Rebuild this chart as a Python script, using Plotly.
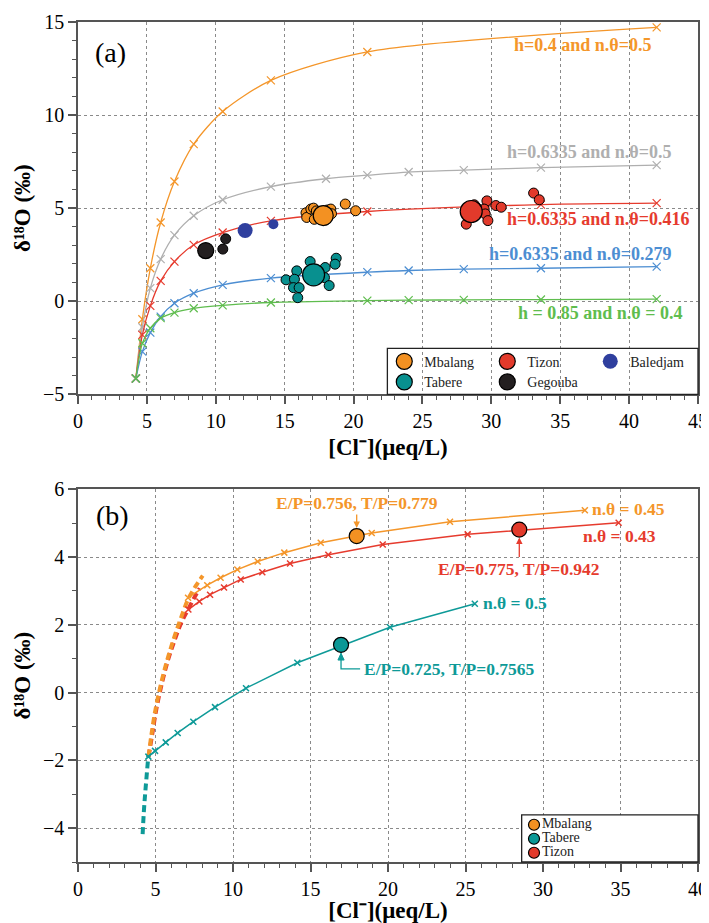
import plotly.graph_objects as go

FONT = "Liberation Serif"

# ---------------- Panel (a): model curves ----------------
cl_orange = [4.2, 4.67, 5.25, 6.0, 7.0, 8.4, 10.5, 14.0, 21.0, 42.0]
d18_orange = [-4.15, -0.97, 1.77, 4.23, 6.43, 8.44, 10.19, 11.86, 13.39, 14.71]
cl_gray = [4.2, 4.67, 5.25, 6.0, 7.0, 8.4, 10.5, 14.0, 18.0, 21.0, 24.0, 28.0, 33.6, 42.0]
d18_gray = [-4.15, -1.4, 0.70, 2.26, 3.55, 4.59, 5.45, 6.16, 6.58, 6.77, 6.94, 7.04, 7.18, 7.31]
cl_red = [4.2, 4.67, 5.25, 6.0, 7.0, 8.4, 10.5, 14.0, 21.0, 33.6, 42.0]
d18_red = [-4.15, -1.81, -0.25, 1.09, 2.13, 3.03, 3.69, 4.32, 4.82, 5.19, 5.27]
cl_blue = [4.2, 4.67, 5.25, 6.0, 7.0, 8.4, 10.5, 14.0, 21.0, 24.0, 28.0, 33.6, 42.0]
d18_blue = [-4.15, -2.71, -1.69, -0.83, -0.11, 0.43, 0.88, 1.24, 1.56, 1.65, 1.72, 1.77, 1.86]
cl_green = [4.2, 4.67, 5.25, 6.0, 7.0, 8.4, 10.5, 14.0, 21.0, 24.0, 28.0, 33.6, 42.0]
d18_green = [-4.15, -2.26, -1.45, -0.91, -0.61, -0.38, -0.22, -0.07, 0.03, 0.06, 0.07, 0.09, 0.11]

curve_labels = ["h=0.4 and n.θ=0.5", "h=0.6335 and n.θ=0.5", "h=0.6335 and n.θ=0.416",
                "h=0.6335 and n.θ=0.279", "h = 0.85 and n.θ = 0.4"]
curve_colors = ["#F4962A", "#AFAFAF", "#E63B2E", "#4D8ED2", "#5FBD4E"]
curve_label_x = [31.5, 31.0, 31.0, 29.7, 31.8]
curve_label_y = [13.78, 8.01, 4.42, 2.53, -0.61]

# ---------------- Panel (a): samples ----------------
sites = ["Mbalang", "Tizon", "Baledjam", "Tabere", "Gegouba"]
site_colors = {"Mbalang": "#F39122", "Tizon": "#E23A2B", "Baledjam": "#2F3F9E",
               "Tabere": "#08908F", "Gegouba": "#231F20"}

mbalang_cl = [16.55, 16.6, 16.9, 17.1, 17.15, 17.3, 17.5, 17.95, 18.1, 18.35, 18.4, 19.4, 20.15]
mbalang_d18 = [4.75, 4.5, 4.95, 5.0, 4.4, 4.85, 4.7, 4.35, 4.9, 4.95, 4.7, 5.22, 4.86]
tizon_cl = [28.18, 28.76, 29.68, 29.48, 29.56, 29.75, 30.33, 30.72, 33.07, 33.48, 28.9]
tizon_d18 = [4.14, 5.18, 5.39, 4.95, 4.69, 4.33, 5.14, 5.05, 5.81, 5.45, 5.05]
tabere_cl = [16.85, 15.88, 15.1, 15.71, 15.64, 16.05, 15.95, 17.94, 17.89, 18.23, 18.74, 18.66]
tabere_d18 = [2.13, 1.63, 1.15, 1.18, 0.73, 0.73, 0.19, 1.81, 1.27, 0.84, 2.31, 1.99]
gegouba_cl = [10.72, 10.51]
gegouba_d18 = [3.35, 2.80]
baledjam_cl = [14.18]
baledjam_d18 = [4.14]

mean_cl = {"Mbalang": 17.8, "Tizon": 28.54, "Baledjam": 12.13, "Tabere": 17.1, "Gegouba": 9.27}
mean_d18 = {"Mbalang": 4.6, "Tizon": 4.82, "Baledjam": 3.80, "Tabere": 1.42, "Gegouba": 2.72}
mean_size = {"Mbalang": 20, "Tizon": 22, "Baledjam": 15, "Tabere": 22, "Gegouba": 16}

# ---------------- Panel (b) ----------------
b_orange_cl = [7.1, 8.34, 9.2, 10.28, 11.59, 13.31, 15.66, 18.95, 24.0, 32.7]
b_orange_d18 = [2.80, 3.17, 3.39, 3.63, 3.87, 4.13, 4.42, 4.71, 5.04, 5.38]
b_red_cl = [7.12, 7.83, 8.52, 9.42, 10.5, 11.89, 13.68, 16.15, 19.66, 25.14, 34.88]
b_red_d18 = [2.45, 2.69, 2.89, 3.10, 3.34, 3.55, 3.81, 4.07, 4.37, 4.67, 5.01]
b_teal_cl = [4.54, 4.97, 5.66, 6.43, 7.44, 8.84, 10.84, 14.15, 20.13, 25.6]
b_teal_d18 = [-1.89, -1.72, -1.47, -1.19, -0.86, -0.43, 0.13, 0.88, 1.93, 2.62]

b_orange_dash_cl = [4.55, 4.75, 5.0, 5.35, 5.75, 6.15, 6.6, 7.1, 7.6, 8.05]
b_orange_dash_d18 = [-1.9, -1.2, -0.5, 0.25, 0.95, 1.55, 2.15, 2.75, 3.15, 3.45]
b_red_dash_cl = [4.55, 4.8, 5.05, 5.4, 5.8, 6.2, 6.65, 7.1, 7.5, 7.85]
b_red_dash_d18 = [-1.9, -1.2, -0.5, 0.25, 0.95, 1.5, 2.05, 2.45, 2.8, 3.08]
b_teal_dash_cl = [4.17, 4.25, 4.33, 4.42, 4.54]
b_teal_dash_d18 = [-4.18, -3.5, -3.0, -2.5, -1.86]

b_sites = ["Mbalang", "Tabere", "Tizon"]
b_pt_cl = {"Mbalang": 17.98, "Tabere": 16.97, "Tizon": 28.47}
b_pt_d18 = {"Mbalang": 4.62, "Tabere": 1.41, "Tizon": 4.81}
b_colors = {"Mbalang": "#F39122", "Tabere": "#0B9896", "Tizon": "#E23A2B"}
b_line_colors = {"orange": "#F4962A", "red": "#E63B2E", "teal": "#0E9A98"}
teal_text_y = 0.70

fig = go.Figure()

# curves panel (a)
curves = [(cl_orange, d18_orange), (cl_gray, d18_gray), (cl_red, d18_red),
          (cl_blue, d18_blue), (cl_green, d18_green)]
for (cx, cy), col, lab in zip(curves, curve_colors, curve_labels):
    fig.add_trace(go.Scatter(
        x=cx, y=cy, mode="lines+markers", name=lab, showlegend=False,
        line=dict(color=col, width=1.3, shape="spline", smoothing=0.8),
        marker=dict(symbol="x-thin", size=8, line=dict(color=col, width=1.2)),
        xaxis="x", yaxis="y", hoverinfo="skip"))

small = {"Mbalang": (mbalang_cl, mbalang_d18), "Tizon": (tizon_cl, tizon_d18),
         "Tabere": (tabere_cl, tabere_d18), "Gegouba": (gegouba_cl, gegouba_d18),
         "Baledjam": (baledjam_cl, baledjam_d18)}
for s in ["Mbalang", "Tizon", "Tabere", "Gegouba", "Baledjam"]:
    sx, sy = small[s]
    fig.add_trace(go.Scatter(
        x=sx, y=sy, mode="markers", name=s, showlegend=False,
        marker=dict(size=10, color=site_colors[s],
                    line=dict(color="black", width=1 if s != "Baledjam" else 0)),
        xaxis="x", yaxis="y"))

for s in sites:
    fig.add_trace(go.Scatter(
        x=[mean_cl[s]], y=[mean_d18[s]], mode="markers", name=s,
        legend="legend" if s in ["Mbalang", "Tizon", "Baledjam"] else "legend2",
        marker=dict(size=mean_size[s], color=site_colors[s],
                    line=dict(color="black", width=1.2 if s != "Baledjam" else 0)),
        xaxis="x", yaxis="y"))

# panel (b) dashed early-stage curves
for cx, cy, key in [(b_red_dash_cl, b_red_dash_d18, "red"),
                    (b_orange_dash_cl, b_orange_dash_d18, "orange"),
                    (b_teal_dash_cl, b_teal_dash_d18, "teal")]:
    fig.add_trace(go.Scatter(x=cx, y=cy, mode="lines", showlegend=False,
                             line=dict(color=b_line_colors[key], width=4, dash="7px,4px", shape="spline"),
                             xaxis="x2", yaxis="y2", hoverinfo="skip"))
for cx, cy, key in [(b_orange_cl, b_orange_d18, "orange"), (b_red_cl, b_red_d18, "red"),
                    (b_teal_cl, b_teal_d18, "teal")]:
    col = b_line_colors[key]
    fig.add_trace(go.Scatter(
        x=cx, y=cy, mode="lines+markers", showlegend=False,
        line=dict(color=col, width=1.5),
        marker=dict(symbol="x-thin", size=6, line=dict(color=col, width=1.5)),
        xaxis="x2", yaxis="y2", hoverinfo="skip"))
for s in b_sites:
    fig.add_trace(go.Scatter(
        x=[b_pt_cl[s]], y=[b_pt_d18[s]], mode="markers", name=s, showlegend=False,
        marker=dict(size=15, color=b_colors[s], line=dict(color="black", width=1.2)),
        xaxis="x2", yaxis="y2"))

# legend of panel (b), drawn on hidden axes for compact row spacing
fig.add_trace(go.Scatter(
    x=[0.07, 0.07, 0.07], y=[2, 1, 0], mode="markers+text", text=b_sites,
    textposition="middle right", textfont=dict(family=FONT, size=14, color="#222"),
    marker=dict(size=11, color=[b_colors[s] for s in b_sites], line=dict(color="black", width=1.2)),
    showlegend=False, xaxis="x3", yaxis="y3", hoverinfo="skip"))

axis_common = dict(
    ticks="outside", ticklen=8, tickwidth=1.5, tickcolor="#555",
    showline=True, linecolor="#555", linewidth=1.6, mirror=True,
    showgrid=True, gridcolor="#8a8a8a", griddash="dot", gridwidth=1,
    zeroline=False, tickfont=dict(family=FONT, size=20, color="black"),
    automargin=False,
)
minor = dict(ticks="outside", ticklen=4, tickwidth=1, tickcolor="#555", showgrid=False)

xtitle = dict(text="<b>[Cl⁻](μeq/L)</b>", font=dict(family=FONT, size=23, color="black"))
ytitle = dict(text="<b>δ¹⁸O (‰)</b>", font=dict(family=FONT, size=23, color="black"))

ya_bot = 0.5568
yb_top = 0.4437

fig.update_layout(
    width=701, height=915,
    margin=dict(l=70, r=11, t=14, b=61),
    paper_bgcolor="white", plot_bgcolor="white",
    font=dict(family=FONT, color="black"),
    xaxis=dict(domain=[0, 1], anchor="y", range=[0, 45], dtick=5, tick0=0,
               minor=dict(dtick=1, **minor), title=dict(standoff=8, **xtitle), **axis_common),
    yaxis=dict(domain=[ya_bot, 1], anchor="x", range=[-5, 15], dtick=5, tick0=0,
               minor=dict(dtick=1, **minor), title=dict(standoff=6, **ytitle), **axis_common),
    xaxis2=dict(domain=[0, 1], anchor="y2", range=[0, 40], dtick=5, tick0=0,
                minor=dict(dtick=1, **minor), title=dict(standoff=4, **xtitle), **axis_common),
    yaxis2=dict(domain=[0, yb_top], anchor="x2", range=[-5, 6], dtick=2, tick0=0,
                minor=dict(dtick=1, **minor), title=dict(standoff=6, **ytitle), **axis_common),
    xaxis3=dict(domain=[0.7156, 1.0], anchor="y3", range=[0, 1], visible=False, fixedrange=True),
    yaxis3=dict(domain=[0, 0.056], anchor="x3", range=[-0.66, 2.7], visible=False, fixedrange=True),
    legend=dict(orientation="h", x=0.494, xanchor="left", y=0.5956, yanchor="middle",
                entrywidth=58, entrywidthmode="pixels", bgcolor="rgba(0,0,0,0)", borderwidth=0,
                font=dict(family=FONT, size=14, color="#222"), itemsizing="trace"),
    legend2=dict(orientation="h", x=0.494, xanchor="left", y=0.5711, yanchor="middle",
                 entrywidth=58, entrywidthmode="pixels", bgcolor="rgba(0,0,0,0)", borderwidth=0,
                 font=dict(family=FONT, size=14, color="#222"), itemsizing="trace"),
    showlegend=True,
)

# legend boxes
fig.add_shape(type="rect", xref="paper", yref="paper", x0=0.499, x1=1.0, y0=ya_bot, y1=0.6115,
              line=dict(color="#222", width=1.3), fillcolor="rgba(0,0,0,0)")
fig.add_shape(type="rect", xref="paper", yref="paper", x0=0.7156, x1=1.0, y0=0, y1=0.056,
              line=dict(color="#222", width=1.3), fillcolor="rgba(0,0,0,0)")

ann = []
for lab, col, lx, ly in zip(curve_labels, curve_colors, curve_label_x, curve_label_y):
    ann.append(dict(x=lx, y=ly, xref="x", yref="y", text="<b>%s</b>" % lab, showarrow=False,
                    xanchor="left", yanchor="middle", font=dict(family=FONT, size=18, color=col)))
ann.append(dict(x=1.1, y=13.35, xref="x", yref="y", text="(a)", showarrow=False, xanchor="left",
                yanchor="middle", font=dict(family=FONT, size=28, color="black")))
ann.append(dict(x=1.0, y=5.24, xref="x2", yref="y2", text="(b)", showarrow=False, xanchor="left",
                yanchor="middle", font=dict(family=FONT, size=28, color="black")))

# panel (b) annotations
BF = 17.5
ann.append(dict(x=b_pt_cl["Mbalang"], y=b_pt_d18["Mbalang"], xref="x2", yref="y2",
                text="<b>E/P=0.756, T/P=0.779</b>", showarrow=True, ax=0, ay=-33,
                arrowhead=2, arrowsize=1, arrowwidth=1.3, arrowcolor=b_line_colors["orange"], standoff=8,
                font=dict(family=FONT, size=BF, color=b_line_colors["orange"])))
ann.append(dict(x=b_pt_cl["Tizon"], y=b_pt_d18["Tizon"], xref="x2", yref="y2",
                text="<b>E/P=0.775, T/P=0.942</b>", showarrow=True, ax=0, ay=39,
                arrowhead=2, arrowsize=1, arrowwidth=1.3, arrowcolor=b_line_colors["red"], standoff=8,
                font=dict(family=FONT, size=BF, color=b_line_colors["red"])))
ann.append(dict(x=18.3, y=teal_text_y, xref="x2", yref="y2", text="<b>E/P=0.725, T/P=0.7565</b>",
                showarrow=False, xanchor="left", yanchor="middle",
                font=dict(family=FONT, size=BF, color=b_line_colors["teal"])))
ann.append(dict(x=33.0, y=5.43, xref="x2", yref="y2", text="<b>n.θ = 0.45</b>", showarrow=False,
                xanchor="left", yanchor="middle", font=dict(family=FONT, size=BF, color=b_line_colors["orange"])))
ann.append(dict(x=32.45, y=4.62, xref="x2", yref="y2", text="<b>n.θ = 0.43</b>", showarrow=False,
                xanchor="left", yanchor="middle", font=dict(family=FONT, size=BF, color=b_line_colors["red"])))
ann.append(dict(x=26.0, y=2.65, xref="x2", yref="y2", text="<b>n.θ = 0.5</b>", showarrow=False,
                xanchor="left", yanchor="middle", font=dict(family=FONT, size=BF, color=b_line_colors["teal"])))
fig.update_layout(annotations=ann)

# elbow connector with arrow head for Tabere
tx = b_pt_cl["Tabere"]
tip = b_pt_d18["Tabere"] - 0.25
fig.add_shape(type="path", xref="x2", yref="y2",
              path="M %.3f,%.3f L %.3f,%.3f L %.3f,%.3f" % (18.2, teal_text_y, tx, teal_text_y, tx, tip),
              line=dict(color=b_line_colors["teal"], width=1.3))
fig.add_shape(type="path", xref="x2", yref="y2",
              path="M %.3f,%.3f L %.3f,%.3f L %.3f,%.3f Z" % (tx - 0.2, tip - 0.2, tx, tip, tx + 0.2, tip - 0.2),
              line=dict(color=b_line_colors["teal"], width=1), fillcolor=b_line_colors["teal"])

fig.write_html("out.html")
